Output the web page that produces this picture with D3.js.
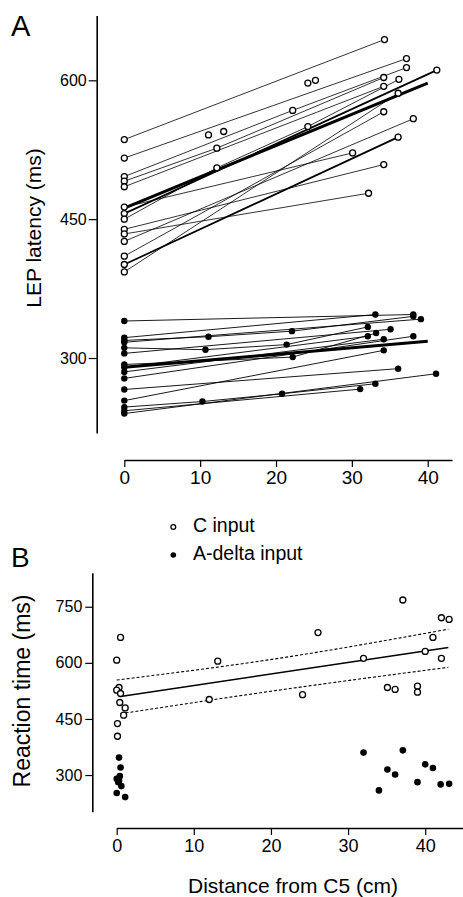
<!DOCTYPE html>
<html>
<head>
<meta charset="utf-8">
<script src="https://cdn.jsdelivr.net/npm/d3@7"></script>
<style>
body { margin: 0; background: #fff; }
svg { display: block; font-family: "Liberation Sans", Arial, sans-serif; }
</style>
</head>
<body>
<svg width="463" height="897"></svg>
<script>
// Panel A data: [distance from C5 (cm), LEP latency (ms)] per subject

var cSubjects = [
  [[0, 536], [34.3, 644]],
  [[0, 516], [37.2, 623.5]],
  [[0, 496], [22.2, 567.5], [37.2, 613.7]],
  [[0, 491], [12.2, 526.7], [34.2, 603]],
  [[0, 485], [34.2, 593.5]],
  [[0, 463], [30.1, 521.6]],
  [[0, 456], [41.2, 611]],
  [[0, 450], [12.2, 505.4], [24.2, 550], [36.2, 601]],
  [[0, 439], [34.2, 509]],
  [[0, 434], [32.2, 478]],
  [[0, 426], [38.1, 558.5]],
  [[0, 410], [34.2, 566]],
  [[0, 401], [36.1, 538.6]],
  [[0, 393], [36.1, 586]]
];
var cIsolated = [[11.1, 541], [13.1, 544.7], [24.2, 597], [25.2, 600]];
var cMean = [[0, 462], [40, 597]];

var aSubjects = [
  [[0, 340], [38.1, 347]],
  [[0, 322], [33.1, 347]],
  [[0, 319], [11.1, 323], [22.1, 329], [38.1, 345]],
  [[0, 317], [39.1, 342]],
  [[0, 311], [10.7, 309], [21.4, 314.5], [32.1, 333.6]],
  [[0, 305], [35.1, 331]],
  [[0, 293], [22.2, 301], [33.2, 327]],
  [[0, 290], [32.1, 323.5]],
  [[0, 285], [34.2, 320.3]],
  [[0, 278], [38.1, 323.5]],
  [[0, 266], [36.1, 288.5]],
  [[0, 254], [34.2, 308.3]],
  [[0, 247], [10.3, 253], [20.8, 261.4], [33.1, 272.2]],
  [[0, 243], [31.1, 266.4]],
  [[0, 240], [41.1, 283]]
];
var aMean = [[0, 290], [40, 318]];

// heavier subject lines in the C group
var heavyC = [6, 12];

// Panel B data: [distance from C5 (cm), reaction time (ms)]
var rtC = [
  [0.5, 668], [0, 607], [13.1, 604.5], [26.1, 681], [37.1, 768], [42.1, 720.5],
  [43.1, 716], [41.0, 668], [32.0, 612], [40.0, 630.5], [42.1, 612],
  [0.3, 534], [0, 527], [0.5, 518], [0.4, 494], [1.1, 479.5], [0.9, 460],
  [0.1, 437.6], [0.1, 403.7], [12.0, 502], [24.1, 515], [35.1, 534],
  [36.1, 529], [39.0, 537.6], [39.0, 521.5]
];
var rtA = [
  [0.3, 346.6], [0.5, 320], [0, 290], [0.4, 297], [0.2, 281], [0.6, 270.5],
  [0, 252], [1.1, 241], [0.3, 285], [32.0, 360], [35.1, 315], [36.1, 301.5],
  [37.1, 366], [34.0, 259], [39.0, 281], [40.0, 328.6], [41.0, 319],
  [42.0, 275], [43.1, 276.5]
];
var rtFit = [[0.5, 510], [43, 641]];
var rtUpper = [[0, 554], [21, 612], [43, 690]];
var rtLower = [[0.5, 464], [21, 527], [43, 588]];

var xTicks = [0, 10, 20, 30, 40];
var aTicksY = [300, 450, 600];
var bTicksY = [300, 450, 600, 750];

var svg = d3.select("svg");

// Scales
var xA = d3.scaleLinear().domain([0, 43.2]).range([124.3, 452]);
var yA = d3.scaleLinear().domain([219, 670]).range([433, 15.5]);
var xB = d3.scaleLinear().domain([0, 44.9]).range([116.7, 463]);
var yB = d3.scaleLinear().domain([202, 841]).range([811.7, 572.7]);

function styleAxis(g, size) {
  g.selectAll("path.domain").attr("stroke", "#000").attr("stroke-width", 1.6);
  g.selectAll(".tick line").attr("stroke", "#000").attr("stroke-width", 1.2);
  g.selectAll(".tick text")
    .attr("fill", "#000")
    .attr("font-size", size)
    .attr("font-family", "'Liberation Sans', Arial, sans-serif");
}

// Panel A axes
var gAy = svg.append("g")
  .attr("transform", "translate(96.7,0)")
  .call(d3.axisLeft(yA).tickValues(aTicksY).tickSize(8).tickSizeOuter(0).tickPadding(2));
styleAxis(gAy, 16);

var gAx = svg.append("g")
  .attr("transform", "translate(0,460)")
  .call(d3.axisBottom(xA).tickValues(xTicks).tickSize(7).tickSizeOuter(0).tickPadding(4));
styleAxis(gAx, 19);

// Panel B axes
var gBy = svg.append("g")
  .attr("transform", "translate(92.3,0)")
  .call(d3.axisLeft(yB).tickValues(bTicksY).tickSize(7).tickSizeOuter(0).tickPadding(3));
styleAxis(gBy, 16);

var gBx = svg.append("g")
  .attr("transform", "translate(0,828)")
  .call(d3.axisBottom(xB).tickValues(xTicks).tickSize(7).tickSizeOuter(0).tickPadding(4));
styleAxis(gBx, 18);

// Panel A lines
var lineA = d3.line()
  .x(function(d) { return xA(d[0]); })
  .y(function(d) { return yA(d[1]); });

svg.append("g").selectAll("path.cline")
  .data(cSubjects)
  .enter()
  .append("path")
  .attr("class", "cline")
  .attr("d", lineA)
  .attr("fill", "none")
  .attr("stroke", "#000")
  .attr("stroke-width", function(d, i) { return heavyC.indexOf(i) >= 0 ? 1.7 : 0.8; });

svg.append("g").selectAll("path.aline")
  .data(aSubjects)
  .enter()
  .append("path")
  .attr("class", "aline")
  .attr("d", lineA)
  .attr("fill", "none")
  .attr("stroke", "#000")
  .attr("stroke-width", 0.9);

svg.append("path")
  .attr("d", lineA(cMean))
  .attr("fill", "none")
  .attr("stroke", "#000")
  .attr("stroke-width", 3);

svg.append("path")
  .attr("d", lineA(aMean))
  .attr("fill", "none")
  .attr("stroke", "#000")
  .attr("stroke-width", 3);

// Panel A points
var cPoints = [].concat.apply([], cSubjects).concat(cIsolated);
var aPoints = [].concat.apply([], aSubjects);

svg.append("g").selectAll("circle")
  .data(cPoints)
  .enter()
  .append("circle")
  .attr("cx", function(d) { return xA(d[0]); })
  .attr("cy", function(d) { return yA(d[1]); })
  .attr("r", 3)
  .attr("fill", "#fff")
  .attr("stroke", "#000")
  .attr("stroke-width", 1.3);

svg.append("g").selectAll("circle")
  .data(aPoints)
  .enter()
  .append("circle")
  .attr("cx", function(d) { return xA(d[0]); })
  .attr("cy", function(d) { return yA(d[1]); })
  .attr("r", 3.2)
  .attr("fill", "#000");

// Panel B fit and confidence band
var lineB = d3.line()
  .x(function(d) { return xB(d[0]); })
  .y(function(d) { return yB(d[1]); })
  .curve(d3.curveMonotoneX);

svg.append("path")
  .attr("d", lineB(rtFit))
  .attr("fill", "none")
  .attr("stroke", "#000")
  .attr("stroke-width", 1.4);

svg.selectAll("path.band")
  .data([rtUpper, rtLower])
  .enter()
  .append("path")
  .attr("class", "band")
  .attr("d", lineB)
  .attr("fill", "none")
  .attr("stroke", "#000")
  .attr("stroke-width", 1.1)
  .attr("stroke-dasharray", "3,2");

// Panel B points
svg.append("g").selectAll("circle")
  .data(rtC)
  .enter()
  .append("circle")
  .attr("cx", function(d) { return xB(d[0]); })
  .attr("cy", function(d) { return yB(d[1]); })
  .attr("r", 3)
  .attr("fill", "#fff")
  .attr("stroke", "#000")
  .attr("stroke-width", 1.3);

svg.append("g").selectAll("circle")
  .data(rtA)
  .enter()
  .append("circle")
  .attr("cx", function(d) { return xB(d[0]); })
  .attr("cy", function(d) { return yB(d[1]); })
  .attr("r", 3.3)
  .attr("fill", "#000");

// Panel letters and axis titles
svg.append("text").attr("x", 11).attr("y", 36).attr("font-size", 29).text("A");
svg.append("text").attr("x", 11).attr("y", 567).attr("font-size", 28).text("B");

svg.append("text")
  .attr("transform", "translate(41,228) rotate(-90)")
  .attr("text-anchor", "middle")
  .attr("font-size", 21)
  .text("LEP latency (ms)");

svg.append("text")
  .attr("transform", "translate(30,691) rotate(-90)")
  .attr("text-anchor", "middle")
  .attr("font-size", 23)
  .text("Reaction time (ms)");

svg.append("text")
  .attr("x", 293)
  .attr("y", 893)
  .attr("text-anchor", "middle")
  .attr("font-size", 21)
  .text("Distance from C5 (cm)");

// Legend
var legend = svg.append("g");
legend.append("circle").attr("cx", 173.3).attr("cy", 527).attr("r", 2.4)
  .attr("fill", "#fff").attr("stroke", "#000").attr("stroke-width", 1.3);
legend.append("circle").attr("cx", 173.3).attr("cy", 555).attr("r", 2.8).attr("fill", "#000");
legend.append("text").attr("x", 193).attr("y", 532).attr("font-size", 19.5).text("C input");
legend.append("text").attr("x", 193).attr("y", 560).attr("font-size", 19.5).text("A-delta input");
</script>
</body>
</html>
